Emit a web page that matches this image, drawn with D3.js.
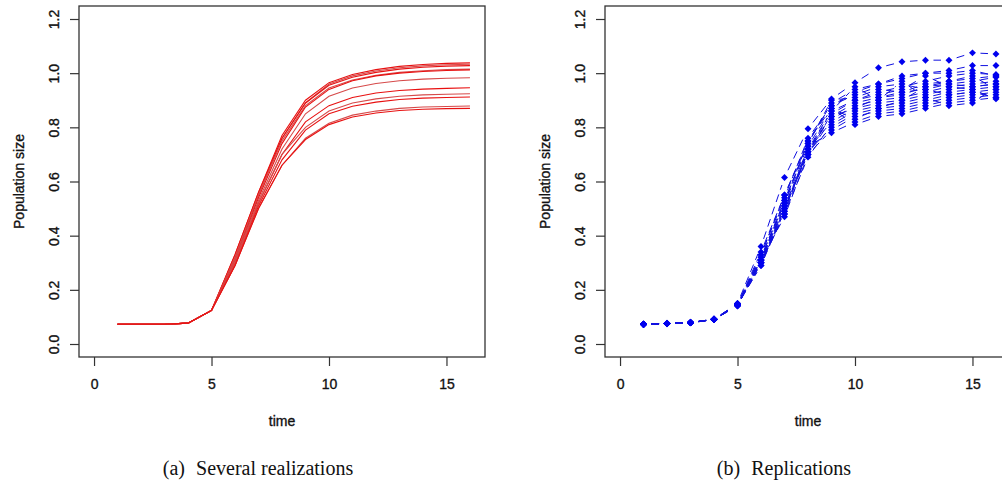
<!DOCTYPE html>
<html>
<head>
<meta charset="utf-8">
<script src="https://cdn.jsdelivr.net/npm/d3@7"></script>
<style>
  body { margin: 0; background: #fff; }
  svg { display: block; }
</style>
</head>
<body>
<svg id="chart" width="1002" height="485"></svg>
<script>
// data
var times = [1, 2, 3, 4, 5, 6, 7, 8, 9, 10, 11, 12, 13, 14, 15, 16]

// panel (a): several realizations
var realizations = [
  [0.073, 0.073, 0.073, 0.077, 0.124, 0.33, 0.56, 0.77, 0.90, 0.965, 0.995, 1.013, 1.025, 1.032, 1.036, 1.038],
  [0.073, 0.073, 0.073, 0.077, 0.124, 0.32, 0.55, 0.76, 0.89, 0.960, 0.990, 1.008, 1.020, 1.027, 1.031, 1.033],
  [0.073, 0.073, 0.073, 0.077, 0.124, 0.33, 0.56, 0.76, 0.89, 0.955, 0.985, 1.003, 1.015, 1.022, 1.026, 1.028],
  [0.073, 0.073, 0.073, 0.077, 0.124, 0.32, 0.55, 0.75, 0.88, 0.945, 0.975, 0.992, 1.003, 1.009, 1.013, 1.015],
  [0.073, 0.073, 0.073, 0.077, 0.124, 0.31, 0.54, 0.74, 0.875, 0.940, 0.972, 0.990, 1.000, 1.006, 1.010, 1.012],
  [0.073, 0.073, 0.073, 0.077, 0.124, 0.31, 0.53, 0.72, 0.85, 0.915, 0.945, 0.962, 0.972, 0.978, 0.981, 0.983],
  [0.073, 0.073, 0.073, 0.077, 0.124, 0.30, 0.52, 0.70, 0.82, 0.880, 0.910, 0.927, 0.936, 0.941, 0.944, 0.946],
  [0.073, 0.073, 0.073, 0.077, 0.124, 0.30, 0.52, 0.70, 0.80, 0.860, 0.890, 0.905, 0.915, 0.920, 0.922, 0.924],
  [0.073, 0.073, 0.073, 0.077, 0.124, 0.29, 0.51, 0.68, 0.79, 0.850, 0.878, 0.893, 0.903, 0.908, 0.910, 0.912],
  [0.073, 0.073, 0.073, 0.077, 0.124, 0.29, 0.50, 0.66, 0.76, 0.815, 0.845, 0.860, 0.870, 0.875, 0.877, 0.879],
  [0.073, 0.073, 0.073, 0.077, 0.124, 0.29, 0.50, 0.66, 0.755, 0.810, 0.838, 0.853, 0.862, 0.867, 0.869, 0.870]
]

// panel (b): replications
var replications = [
  [0.073, 0.076, 0.079, 0.091, 0.150, 0.36, 0.615, 0.795, 0.905, 0.965, 1.020, 1.042, 1.048, 1.048, 1.075, 1.071],
  [0.073, 0.076, 0.078, 0.090, 0.143, 0.33, 0.55, 0.75, 0.88, 0.93, 0.96, 0.99, 1.00, 1.01, 1.028, 1.028],
  [0.072, 0.075, 0.079, 0.091, 0.140, 0.31, 0.52, 0.72, 0.86, 0.90, 0.93, 0.95, 0.97, 0.99, 1.00, 0.995],
  [0.073, 0.076, 0.079, 0.092, 0.145, 0.32, 0.53, 0.74, 0.90, 0.91, 0.94, 0.93, 0.96, 0.97, 0.98, 0.99],
  [0.073, 0.077, 0.080, 0.091, 0.147, 0.30, 0.50, 0.71, 0.84, 0.89, 0.91, 0.92, 0.95, 0.96, 0.97, 0.985],
  [0.073, 0.076, 0.079, 0.090, 0.142, 0.31, 0.51, 0.70, 0.83, 0.88, 0.90, 0.91, 0.93, 0.95, 0.96, 0.97],
  [0.072, 0.076, 0.078, 0.091, 0.144, 0.29, 0.49, 0.72, 0.82, 0.87, 0.89, 0.90, 0.92, 0.94, 0.95, 0.96],
  [0.073, 0.075, 0.079, 0.092, 0.141, 0.30, 0.48, 0.69, 0.81, 0.86, 0.88, 0.89, 0.91, 0.93, 0.94, 0.95],
  [0.073, 0.076, 0.079, 0.091, 0.146, 0.29, 0.50, 0.71, 0.80, 0.85, 0.87, 0.88, 0.90, 0.92, 0.93, 0.94],
  [0.073, 0.076, 0.080, 0.090, 0.143, 0.31, 0.47, 0.70, 0.79, 0.84, 0.86, 0.87, 0.89, 0.91, 0.92, 0.93],
  [0.073, 0.076, 0.079, 0.091, 0.148, 0.30, 0.49, 0.73, 0.78, 0.82, 0.85, 0.86, 0.88, 0.90, 0.91, 0.92],
  [0.072, 0.076, 0.079, 0.091, 0.142, 0.32, 0.52, 0.75, 0.87, 0.81, 0.84, 0.85, 0.87, 0.89, 0.90, 0.91],
  [0.073, 0.077, 0.079, 0.090, 0.145, 0.33, 0.54, 0.76, 0.88, 0.92, 0.95, 0.96, 0.94, 0.92, 0.93, 0.91],
  [0.073, 0.076, 0.078, 0.091, 0.150, 0.31, 0.50, 0.70, 0.85, 0.90, 0.92, 0.94, 0.99, 0.95, 0.94, 0.905],
  [0.073, 0.076, 0.079, 0.092, 0.144, 0.30, 0.51, 0.71, 0.86, 0.95, 0.90, 0.97, 0.91, 0.88, 0.89, 0.95],
  [0.073, 0.076, 0.079, 0.091, 0.146, 0.34, 0.55, 0.74, 0.89, 0.94, 0.96, 0.98, 1.00, 1.00, 1.01, 0.99],
  [0.073, 0.076, 0.079, 0.091, 0.143, 0.30, 0.48, 0.72, 0.84, 0.87, 0.91, 0.93, 0.94, 0.96, 0.95, 0.96],
  [0.073, 0.076, 0.079, 0.091, 0.145, 0.31, 0.53, 0.73, 0.87, 0.83, 0.87, 0.90, 0.95, 0.97, 0.99, 0.94]
]

var xTicks = [0, 5, 10, 15]
var yTicks = [0, 0.2, 0.4, 0.6, 0.8, 1.0, 1.2]
var xDomain = [-0.64, 16.64]
var yDomain = [-0.048, 1.248]

var svg = d3.select("#chart")

var sans = "'Liberation Sans', Arial, sans-serif"

function drawPanel(dims, caption, captionX) {
  var g = svg.append("g")

  var xScale = d3.scaleLinear()
    .domain(xDomain)
    .range([dims.left, dims.left + dims.width])

  var yScale = d3.scaleLinear()
    .domain(yDomain)
    .range([dims.top + dims.height, dims.top])

  // x axis
  var xAxis = g.append("g")
    .attr("transform", `translate(0,${dims.top + dims.height})`)
    .call(d3.axisBottom(xScale).tickValues(xTicks).tickSize(9).tickPadding(13))
  xAxis.select(".domain").remove()

  // y axis with rotated labels, R style
  var yAxis = g.append("g")
    .attr("transform", `translate(${dims.left},0)`)
    .call(d3.axisLeft(yScale).tickValues(yTicks).tickSize(9).tickFormat(d3.format(".1f")))
  yAxis.select(".domain").remove()
  yAxis.selectAll(".tick text")
    .attr("x", null)
    .attr("dy", null)
    .attr("text-anchor", "middle")
    .attr("transform", "translate(-20,0) rotate(-90)")

  g.selectAll(".tick line").attr("stroke", "#333").attr("stroke-width", 1.2)
  g.selectAll(".tick text")
    .attr("fill", "#111")
    .attr("stroke", "#111")
    .attr("stroke-width", 0.35)
    .style("font-family", sans)
    .style("font-size", "14px")

  // box
  g.append("rect")
    .attr("x", dims.left)
    .attr("y", dims.top)
    .attr("width", dims.width)
    .attr("height", dims.height)
    .attr("fill", "none")
    .attr("stroke", "#333")
    .attr("stroke-width", 1.3)

  // axis titles
  g.append("text")
    .attr("x", dims.left + dims.width / 2)
    .attr("y", 426)
    .attr("text-anchor", "middle")
    .style("font-family", sans)
    .style("font-size", "14px")
    .attr("fill", "#111")
    .attr("stroke", "#111")
    .attr("stroke-width", 0.35)
    .text("time")

  g.append("text")
    .attr("transform", `translate(${dims.left - 55},${dims.top + dims.height / 2}) rotate(-90)`)
    .attr("text-anchor", "middle")
    .style("font-family", sans)
    .style("font-size", "14px")
    .attr("fill", "#111")
    .attr("stroke", "#111")
    .attr("stroke-width", 0.35)
    .text("Population size")

  // caption below
  var cap = g.append("text")
    .attr("x", captionX)
    .attr("y", 475)
    .attr("text-anchor", "middle")
    .style("font-family", "'Liberation Serif', 'Times New Roman', serif")
    .style("font-size", "20px")
    .attr("fill", "#111")
  cap.append("tspan").text(caption[0])
  cap.append("tspan").attr("dx", 6).text(" " + caption[1])

  return {g: g, x: xScale, y: yScale}
}

// panel a
var panelA = drawPanel({left: 79, top: 6, width: 406, height: 351}, ["(a)", "Several realizations"], 258)

var line = d3.line()
  .x((d, i) => panelA.x(times[i]))
  .y(d => panelA.y(d))

panelA.g.append("g")
  .selectAll("path")
  .data(realizations)
  .enter()
  .append("path")
    .attr("d", line)
    .attr("fill", "none")
    .attr("stroke", (d, i) => i % 2 == 0 ? "#e81010" : "#d64a4a")
    .attr("stroke-width", 1.1)

// panel b
var panelB = drawPanel({left: 605, top: 6, width: 406, height: 351}, ["(b)", "Replications"], 784)

// type="b" lines: dashed segments that leave a gap around every point
var gap = 8
var segs = []
replications.forEach(function(series) {
  for (var i = 0; i < series.length - 1; i++) {
    var x1 = panelB.x(times[i]), y1 = panelB.y(series[i])
    var x2 = panelB.x(times[i + 1]), y2 = panelB.y(series[i + 1])
    var len = Math.hypot(x2 - x1, y2 - y1)
    if (len <= 2 * gap) continue
    var ux = (x2 - x1) / len, uy = (y2 - y1) / len
    segs.push([x1 + ux * gap, y1 + uy * gap, x2 - ux * gap, y2 - uy * gap])
  }
})

panelB.g.append("g")
  .selectAll("line")
  .data(segs)
  .enter()
  .append("line")
    .attr("x1", d => d[0])
    .attr("y1", d => d[1])
    .attr("x2", d => d[2])
    .attr("y2", d => d[3])
    .attr("stroke", "#1010e0")
    .attr("stroke-width", 1)
    .attr("stroke-dasharray", "8,5")

var diamond = d3.symbol().type(d3.symbolSquare).size(24)
var pts = []
replications.forEach(function(series) {
  series.forEach((v, i) => pts.push({t: times[i], v: v}))
})

panelB.g.append("g")
  .selectAll("path")
  .data(pts)
  .enter()
  .append("path")
    .attr("d", diamond)
    .attr("transform", d => `translate(${panelB.x(d.t)},${panelB.y(d.v)}) rotate(45)`)
    .attr("fill", "#0000ee")
</script>
</body>
</html>
